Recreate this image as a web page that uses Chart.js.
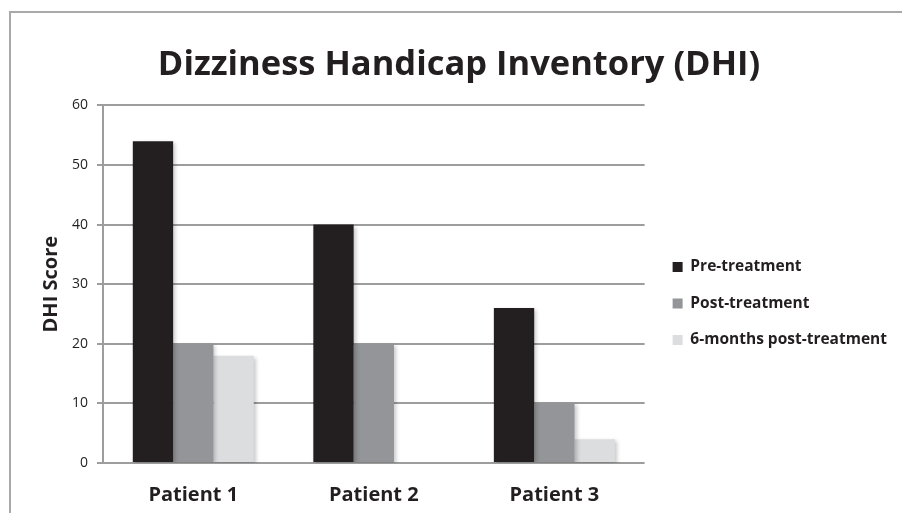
<!DOCTYPE html>
<html>
<head>
<meta charset="utf-8">
<script src="https://cdn.jsdelivr.net/npm/chart.js@4.4.1/dist/chart.umd.min.js"></script>
<style>
  html, body { margin: 0; padding: 0; background: #fff; }
  #wrap { position: relative; width: 902px; height: 513px; }
  #frame { position: absolute; left: 9px; top: 11px; right: 0; bottom: 0;
           border-top: 2px solid #a9a9a9; border-left: 2px solid #a9a9a9; }
  canvas { position: absolute; left: 0; top: 0; }
</style>
</head>
<body>
<div id="wrap">
  <div id="frame"></div>
  <canvas id="dhiChart" width="902" height="513"></canvas>
</div>
<script>
// --- Data ---
const patients = ['Patient 1', 'Patient 2', 'Patient 3'];
const preTreatment = [54, 40, 26];
const postTreatment = [20, 20, 10];
const sixMonthsPost = [18, 0, 4];
const yTicks = [0, 10, 20, 30, 40, 50, 60];

const FONT = '"Open Sans", sans-serif';
const INK = '#231f20';
const GRID = '#9d9d9d';

// soft drop shadow under the bars, like the original
const barShadow = {
  id: 'barShadow',
  beforeDatasetsDraw(chart) {
    const ctx = chart.ctx;
    ctx.save();
    ctx.shadowColor = 'rgba(0,0,0,0.22)';
    ctx.shadowBlur = 4;
    ctx.shadowOffsetX = 2;
    ctx.shadowOffsetY = 2;
  },
  afterDatasetsDraw(chart) {
    chart.ctx.restore();
  }
};

// the legend sits lower and a little further right than Chart.js puts it
const legendNudge = {
  id: 'legendNudge',
  afterUpdate(chart) {
    const lg = chart.legend;
    if (!lg) return;
    lg.top += 47;
    lg.bottom += 47;
    lg.left += 7;
    lg.right += 7;
  }
};

function drawChart() {
  const ctx = document.getElementById('dhiChart').getContext('2d');
  new Chart(ctx, {
    type: 'bar',
    data: {
      labels: patients,
      datasets: [
        { label: 'Pre-treatment', data: preTreatment, backgroundColor: INK },
        { label: 'Post-treatment', data: postTreatment, backgroundColor: '#939598' },
        { label: '6-months post-treatment', data: sixMonthsPost, backgroundColor: '#dcddde' },
      ]
    },
    options: {
      responsive: false,
      animation: false,
      layout: { padding: { left: 28, right: 12, top: 0, bottom: 0 } },
      datasets: { bar: { categoryPercentage: 0.67, barPercentage: 1.0, borderWidth: 0 } },
      scales: {
        x: {
          afterFit: axis => { axis.height = 50; },
          grid: { display: false, drawTicks: false },
          border: { display: false },
          ticks: { color: INK, padding: 20, font: { family: FONT, size: 20, weight: 'bold' } }
        },
        y: {
          min: 0, max: 60,
          afterBuildTicks: axis => { axis.ticks = yTicks.map(v => ({ value: v })); },
          grid: { color: GRID, lineWidth: 2, tickLength: 6 },
          border: { color: GRID, width: 2 },
          ticks: { color: INK, padding: 9, font: { family: FONT, size: 14 } },
          title: {
            display: true, text: 'DHI Score', color: INK,
            padding: { top: 11, bottom: 0 },
            font: { family: FONT, size: 20, weight: 'bold' }
          }
        }
      },
      plugins: {
        title: {
          display: true,
          text: 'Dizziness Handicap Inventory (DHI)',
          color: INK,
          padding: { top: 44, bottom: 20 },
          font: { family: FONT, size: 34.5, weight: 'bold' }
        },
        legend: {
          position: 'right',
          maxWidth: 320,
          labels: {
            color: INK,
            boxWidth: 10, boxHeight: 10,
            padding: 21,
            font: { family: FONT, size: 15.5, weight: 'bold' }
          }
        },
        tooltip: { enabled: false }
      }
    },
    plugins: [barShadow, legendNudge]
  });
}

// make sure the fonts are ready before Chart.js measures the labels
Promise.all([
  document.fonts.load('bold 15px "Open Sans"'),
  document.fonts.load('14px "Open Sans"')
]).then(drawChart, drawChart);
</script>
</body>
</html>
